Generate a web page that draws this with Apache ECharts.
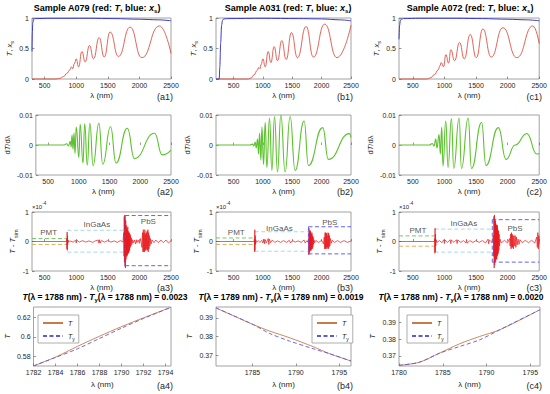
<!DOCTYPE html>
<html><head><meta charset="utf-8">
<script src="https://cdn.jsdelivr.net/npm/echarts@6/dist/echarts.min.js"></script>
<style>html,body{margin:0;padding:0;background:#fff}#c{width:550px;height:394px}</style>
</head><body><div id="c"></div><script>
// ---------------- categories & tick labels ----------------
const samples = ['A079', 'A031', 'A072'];
const panelLetters = ['a', 'b', 'c'];
const diffWl = [1788, 1789, 1788];
const diffVal = ['0.0023', '0.0019', '0.0020'];
const wlTicks = [500, 1000, 1500, 2000, 2500];
const wlRange = [[300, 2500], [200, 2500], [280, 2500]];
const tTicks = [0, 0.5, 1];
const dTicks = [-0.01, 0, 0.01];
const rTicks = [-1, 0, 1];
const zoomXTicks = [[1782, 1784, 1786, 1788, 1790, 1792, 1794], [1785, 1790, 1795], [1780, 1785, 1790, 1795]];
const zoomXRange = [[1782, 1794.5], [1780.8, 1796.35], [1780, 1796.1]];
const zoomYTicks = [[0.58, 0.6, 0.62], [0.37, 0.38, 0.39], [0.37, 0.38, 0.39]];
const zoomYRange = [[0.5705, 0.6305], [0.3641, 0.3959], [0.364, 0.3992]];
const regionNames = ['PMT', 'InGaAs', 'PbS'];

// ---------------- row 1: transmittance T and x_s ----------------
const T_A079 = [[300,0],[680,0],[740,0.01],[800,0.04],[850,0.09],[900,0.15],[925,0.2],[945,0.17],[970,0.25],[1000,0.33],[1037,0.2],[1090,0.45],[1142,0.28],[1210,0.55],[1274,0.33],[1363,0.68],[1442,0.36],[1537,0.77],[1668,0.37],[1853,0.85],[2037,0.35],[2316,0.87],[2500,0.42]];
const T_A031 = [[200,0],[755,0],[800,0.02],[850,0.07],[900,0.14],[930,0.19],[950,0.17],[970,0.24],[999,0.33],[1038,0.2],[1089,0.45],[1135,0.27],[1191,0.53],[1248,0.3],[1321,0.63],[1395,0.32],[1486,0.76],[1588,0.35],[1735,0.86],[1860,0.36],[2052,0.9],[2260,0.35],[2500,0.88]];
const T_A072 = [[280,0],[720,0],[780,0.02],[840,0.07],[900,0.15],[930,0.22],[949,0.27],[985,0.2],[1022,0.4],[1064,0.26],[1101,0.48],[1160,0.3],[1239,0.6],[1313,0.33],[1408,0.73],[1503,0.35],[1608,0.82],[1740,0.36],[1925,0.84],[2146,0.35],[2400,0.87],[2500,0.58]];
const xs_A079 = [[300,0.45],[305,0.75],[312,0.92],[325,0.98],[350,0.99],[600,0.995],[1200,0.995],[1600,0.99],[2000,0.98],[2300,0.97],[2500,0.955]];
const xs_A031 = [[200,0],[255,0],[265,0.2],[280,0.6],[295,0.88],[310,0.96],[330,0.985],[400,0.99],[1000,0.995],[1600,0.99],[2000,0.985],[2300,0.97],[2500,0.955]];
const xs_A072 = [[280,0.65],[290,0.88],[300,0.95],[315,0.98],[350,0.99],[600,0.995],[1200,0.995],[1600,0.99],[2000,0.98],[2300,0.97],[2500,0.955]];

// ---------------- row 2: dT/dλ ----------------
const dT_A079 = [[300,0],[760,0],[800,0.0004],[830,-0.0003],[860,0.0012],[875,-0.0006],[889,0.0033],[905,-0.0014],[921,0.004],[937,-0.0028],[958,0.006],[1000,-0.0042],[1021,0.0069],[1068,-0.006],[1095,0.0071],[1137,-0.0067],[1179,0.0072],[1232,-0.0069],[1326,0.0072],[1389,-0.0064],[1516,0.0061],[1605,-0.006],[1789,0.0056],[1905,-0.0045],[2231,0.0039],[2358,-0.0033],[2500,-0.0017]];
const dT_A031 = [[200,0],[780,0],[820,0.0003],[845,-0.0003],[868,0.001],[885,-0.001],[908,0.002],[925,-0.003],[942,0.004],[965,-0.005],[982,0.006],[1010,-0.0065],[1038,0.0075],[1067,-0.0075],[1112,0.009],[1152,-0.0085],[1197,0.0095],[1248,-0.009],[1305,0.01],[1378,-0.009],[1463,0.0095],[1548,-0.0085],[1701,0.008],[1775,-0.0068],[2018,0.0058],[2115,-0.0048],[2472,0.0038],[2500,0.0025]];
const dT_A072 = [[280,0],[760,0],[808,0.0005],[835,-0.0003],[861,0.002],[882,-0.001],[914,0.0035],[935,-0.003],[956,0.006],[977,-0.007],[1020,0.008],[1057,-0.0075],[1110,0.0088],[1147,-0.0078],[1232,0.009],[1269,-0.0078],[1375,0.009],[1428,-0.0078],[1588,0.0075],[1656,-0.0068],[1853,0.0058],[1975,-0.0048],[2120,0],[2304,0.0038],[2463,-0.003],[2500,-0.0028]];

// ---------------- row 3: residual T - T_sim (units of 1e-4) ----------------
const res_A079 = [[300,0],[845,0],[850,0.08],[853,-0.25],[856,0.32],[859,-0.3],[862,0.2],[866,-0.1],[870,0.05],[880,-0.02],[900,0.02],[950,-0.02],[990,0.04],[1000,-0.05],[1010,0.04],[1050,-0.02],[1100,0.03],[1150,-0.02],[1200,0.02],[1260,-0.03],[1300,0.02],[1350,0.05],[1360,-0.06],[1370,0.06],[1380,-0.05],[1400,0.03],[1450,-0.02],[1500,0.03],[1550,-0.02],[1600,0.02],[1650,-0.03],[1700,0.03],[1740,-0.02],[1752,0.3],[1756,-0.5],[1760,0.85],[1764,-0.7],[1768,0.9],[1772,-0.85],[1776,0.75],[1780,-0.9],[1784,0.7],[1788,-0.6],[1792,0.55],[1796,-0.5],[1800,0.45],[1804,-0.5],[1808,0.4],[1812,-0.45],[1816,0.5],[1820,-0.4],[1824,0.35],[1828,-0.4],[1832,0.3],[1836,-0.35],[1840,0.3],[1845,-0.3],[1850,0.25],[1855,-0.2],[1860,0.2],[1866,-0.15],[1872,0.12],[1880,-0.1],[1890,0.06],[1900,-0.05],[1920,0.05],[1940,-0.08],[1950,0.06],[1960,-0.04],[1980,0.05],[2000,-0.06],[2020,0.1],[2040,-0.2],[2050,0.3],[2056,-0.35],[2062,0.4],[2068,-0.35],[2074,0.3],[2080,-0.35],[2086,0.4],[2092,-0.3],[2098,0.25],[2104,-0.3],[2110,0.3],[2116,-0.25],[2122,0.35],[2128,-0.3],[2134,0.4],[2140,-0.35],[2146,0.3],[2152,-0.25],[2158,0.2],[2166,-0.15],[2175,0.1],[2185,-0.08],[2200,0.05],[2230,-0.04],[2260,0.05],[2300,-0.04],[2340,0.05],[2380,-0.04],[2420,0.05],[2460,-0.05],[2500,0.03]];
const res_A031 = [[200,0],[850,0],[855,0.1],[858,-0.35],[861,0.4],[864,-0.3],[868,0.2],[872,-0.1],[878,0.05],[890,-0.03],[920,0.03],[950,-0.03],[980,0.04],[1000,-0.05],[1020,0.08],[1030,-0.08],[1040,0.06],[1060,-0.04],[1090,0.1],[1100,-0.1],[1110,0.08],[1130,-0.04],[1160,0.05],[1200,-0.03],[1250,0.02],[1300,-0.03],[1350,0.03],[1400,-0.03],[1450,0.04],[1470,-0.05],[1500,0.03],[1550,-0.02],[1600,0.02],[1650,-0.03],[1700,0.05],[1720,-0.05],[1750,0.03],[1770,-0.03],[1778,0.1],[1782,-0.45],[1785,0.45],[1789,-0.4],[1793,0.35],[1797,-0.35],[1801,0.38],[1805,-0.3],[1809,0.35],[1813,-0.3],[1817,0.3],[1821,-0.3],[1825,0.25],[1830,-0.25],[1835,0.3],[1840,-0.25],[1845,0.2],[1850,-0.2],[1856,0.15],[1862,-0.1],[1870,0.06],[1880,-0.04],[1900,0.03],[1950,-0.03],[2000,0.04],[2030,-0.08],[2045,0.15],[2052,-0.25],[2058,0.3],[2064,-0.25],[2070,0.3],[2076,-0.2],[2082,0.28],[2088,-0.25],[2094,0.2],[2100,-0.2],[2108,0.3],[2114,-0.25],[2120,0.28],[2126,-0.2],[2132,0.2],[2140,-0.15],[2150,0.1],[2165,-0.06],[2180,0.04],[2220,-0.03],[2270,0.03],[2320,-0.03],[2380,0.03],[2440,-0.03],[2500,0.02]];
const res_A072 = [[280,0],[840,0],[845,0.1],[848,-0.4],[851,0.45],[854,-0.35],[858,0.25],[862,-0.15],[868,0.06],[880,-0.03],[920,0.03],[960,-0.04],[990,0.06],[1000,-0.07],[1010,0.05],[1050,-0.03],[1090,0.06],[1100,-0.07],[1110,0.05],[1150,-0.03],[1190,0.06],[1200,-0.07],[1210,0.05],[1260,-0.03],[1300,0.03],[1340,-0.05],[1350,0.07],[1360,-0.06],[1400,0.03],[1450,-0.03],[1500,0.03],[1550,-0.03],[1600,0.03],[1650,-0.05],[1690,0.08],[1700,-0.08],[1710,0.05],[1750,-0.03],[1775,0.2],[1779,-0.5],[1783,0.85],[1787,-0.9],[1791,0.9],[1795,-0.8],[1799,0.75],[1803,-0.7],[1807,0.7],[1811,-0.65],[1815,0.6],[1819,-0.6],[1823,0.55],[1827,-0.6],[1831,0.5],[1835,-0.5],[1839,0.55],[1843,-0.45],[1847,0.4],[1851,-0.4],[1856,0.35],[1861,-0.3],[1866,0.25],[1872,-0.15],[1880,0.08],[1900,-0.05],[1950,0.04],[2000,-0.05],[2030,0.1],[2040,-0.15],[2048,0.25],[2054,-0.25],[2060,0.3],[2066,-0.2],[2072,0.25],[2078,-0.2],[2084,0.2],[2092,-0.25],[2100,0.2],[2110,-0.15],[2120,0.2],[2130,-0.2],[2140,0.15],[2150,-0.12],[2165,0.08],[2180,-0.1],[2195,0.06],[2230,-0.04],[2280,0.04],[2330,-0.04],[2380,0.04],[2430,-0.05],[2460,0.15],[2470,-0.2],[2478,0.3],[2486,-0.25],[2494,0.2],[2500,-0.1]];

// detector-region bounds (units of 1e-4)
const pmtHi = [[[300,0.1],[860,0.1]], [[200,0.12],[860,0.12]], [[280,0.19],[845,0.19]]];
const pmtLo = [[[300,-0.1],[860,-0.1]], [[200,-0.1],[860,-0.1]], [[280,-0.16],[845,-0.16]]];
const ingaasHi = [[[860,0.38],[1760,0.38]], [[860,0.33],[1775,0.33]], [[845,0.42],[1757,0.42]]];
const ingaasLo = [[[860,-0.36],[1760,-0.36]], [[860,-0.33],[1775,-0.33]], [[845,-0.36],[1757,-0.36]]];
const pbsTop = [[[1775,0.88],[2500,0.88]], [[1775,0.5],[2500,0.5]], [[1757,0.74],[2500,0.74]]];
const pbsLeft = [[[1775,0.88],[1775,-0.82]], [[1775,0.5],[1775,-0.42]], [[1757,0.74],[1757,-0.7]]];
const pbsBottom = [[[1775,-0.82],[2500,-0.82]], [[1775,-0.42],[2500,-0.42]], [[1757,-0.7],[2500,-0.7]]];
const regionLabelAt = [[[563,0.3],[1326,0.57],[2142,0.68]], [[545,0.3],[1280,0.44],[2138,0.64]], [[580,0.37],[1306,0.6],[2118,0.43]]];

// ---------------- row 4: zoom near 1788 nm ----------------
const Tz_A079 = [[1782,0.5706],[1784,0.5795],[1786,0.5905],[1788,0.6008],[1790,0.6105],[1792,0.6195],[1794.5,0.6302]];
const Tyz_A079 = [[1782,0.5706],[1784,0.5792],[1786,0.588],[1788,0.5985],[1790,0.609],[1792,0.6188],[1794.5,0.6302]];
const Tz_A031 = [[1780.8,0.3954],[1785.1,0.3864],[1787,0.3829],[1789.3,0.3793],[1792,0.3745],[1793.9,0.3707],[1796.35,0.3668]];
const Tyz_A031 = [[1780.8,0.3954],[1785.1,0.3864],[1787,0.3816],[1789.3,0.3775],[1792,0.3734],[1793.9,0.3707],[1796.35,0.3668]];
const Tz_A072 = [[1780,0.3644],[1782.3,0.3662],[1784.6,0.3716],[1786.9,0.3772],[1789.2,0.3816],[1791.5,0.3856],[1796.1,0.3976]];
const Tyz_A072 = [[1780,0.3644],[1782.3,0.3662],[1784.6,0.3716],[1786.9,0.3756],[1789.2,0.3796],[1791.5,0.3856],[1796.1,0.3976]];

const Tdata = [T_A079, T_A031, T_A072];
const xsData = [xs_A079, xs_A031, xs_A072];
const dTdata = [dT_A079, dT_A031, dT_A072];
const resData = [res_A079, res_A031, res_A072];
const TzData = [Tz_A079, Tz_A031, Tz_A072];
const TyzData = [Tyz_A079, Tyz_A031, Tyz_A072];

// ---------------- layout & style ----------------
const FONT = '"Liberation Sans", Arial, Helvetica, sans-serif';
const colX = [32, 216, 399], colW = [139, 135, 141];
const rowY = [18, 115, 212, 307], rowH = [61, 60, 59, 59];
const titleX = [97, 288, 470];
const title4X = [105, 281, 461];
const panelRight = [173, 353, 542];
const panelLabelY = [91, 186, 282, 380];
const yNameGap = [13, 10, 12, 19];
const legendPos = [{left: 38, top: 315}, {left: 312, top: 315}, {left: 407, top: 315}];
const TXT = '#262626';
const subRich = {
  i: {fontStyle: 'italic', lineHeight: 12},
  s: {fontSize: 5.5, lineHeight: 5, verticalAlign: 'bottom'},
  p: {fontSize: 5.5, lineHeight: 5, verticalAlign: 'top'}
};
const fmt = v => String(v);

const opt = {animation: false, backgroundColor: '#fff', grid: [], xAxis: [], yAxis: [], series: [], title: [], legend: []};

function addGrid(r, c) {
  opt.grid.push({left: colX[c], top: rowY[r], width: colW[c], height: rowH[r], show: true, borderColor: '#8c8c8c', borderWidth: 0.8});
  return opt.grid.length - 1;
}
function axTick(ticks) {
  return {show: true, inside: true, length: 2.5, customValues: ticks, lineStyle: {color: '#555', width: 0.6}};
}
function axLabel(ticks) {
  return {customValues: ticks, fontSize: 7, color: TXT, margin: 3, fontFamily: FONT, formatter: fmt};
}
function addX(gi, range, ticks, gap) {
  opt.xAxis.push({type: 'value', gridIndex: gi, min: range[0], max: range[1], name: 'λ (nm)', nameLocation: 'middle', nameGap: gap,
    nameTextStyle: {fontSize: 8, color: TXT, fontFamily: FONT}, axisLine: {show: false}, axisTick: axTick(ticks), axisLabel: axLabel(ticks), splitLine: {show: false}});
}
function addY(gi, range, ticks, name, gap) {
  opt.yAxis.push({type: 'value', gridIndex: gi, min: range[0], max: range[1], name: name, nameLocation: 'middle', nameGap: gap, nameRotate: 90,
    nameTextStyle: {fontSize: 7.5, color: TXT, fontFamily: FONT, lineHeight: 12, rich: subRich}, axisLine: {show: false}, axisTick: axTick(ticks), axisLabel: axLabel(ticks), splitLine: {show: false}});
}
function addLine(gi, data, color, width, smooth, dashed, name, monotone) {
  opt.series.push({type: 'line', name: name, xAxisIndex: gi, yAxisIndex: gi, data: data, symbol: 'none', showSymbol: false,
    smooth: smooth, smoothMonotone: monotone ? 'x' : undefined, connectNulls: true, silent: true, animation: false, progressive: 0,
    clip: false, lineStyle: {color: color, width: width, type: dashed ? [4, 2.5] : 'solid'}, itemStyle: {color: color}});
}
function addTitle(text, x, y, size, align, rich) {
  opt.title.push({text: text, left: x, top: y, textAlign: align, padding: 0,
    textStyle: {fontSize: size, fontWeight: 'bold', color: '#000', fontFamily: FONT, lineHeight: 12, rich: rich}});
}

const boldRich = {
  i: {fontStyle: 'italic', fontWeight: 'bold', lineHeight: 12},
  s: {fontSize: 6, fontWeight: 'bold', lineHeight: 5, verticalAlign: 'bottom'}
};

for (let c = 0; c < 3; c++) {
  // row 1
  let g = addGrid(0, c);
  addX(g, wlRange[c], wlTicks, 12);
  addY(g, [0, 1], tTicks, '{i|T}, {i|x}{s|s}', yNameGap[0]);
  addLine(g, Tdata[c], '#dd3b2f', 0.8, 0.5, false, undefined, true);
  addLine(g, xsData[c], '#3a3ac8', 1, 0.3, false, undefined, true);
  addTitle('Sample ' + samples[c] + ' (red: {i|T}, blue: {i|x}{s|s})', titleX[c], 2, 9, 'center', boldRich);
  // row 2
  g = addGrid(1, c);
  addX(g, wlRange[c], wlTicks, 12);
  addY(g, [-0.01, 0.01], dTicks, 'd{i|T}/dλ', yNameGap[1]);
  addLine(g, dTdata[c], '#5cc22e', 1.1, 0.5, false, undefined, true);
  // row 3
  g = addGrid(2, c);
  addX(g, wlRange[c], wlTicks, 12);
  addY(g, [-1, 1], rTicks, '{i|T} - {i|T}{s|sim}', yNameGap[2]);
  addLine(g, pmtHi[c], '#55bb44', 0.8, false, true);
  addLine(g, pmtLo[c], '#dd9933', 0.8, false, true);
  addLine(g, ingaasHi[c], '#8fd0e0', 0.8, false, true);
  addLine(g, ingaasLo[c], '#8fd0e0', 0.8, false, true);
  addLine(g, resData[c], '#e8171b', 0.7, false, false);
  addLine(g, pbsTop[c], '#5252e6', 0.9, false, true);
  addLine(g, pbsLeft[c], '#5252e6', 0.9, false, true);
  addLine(g, pbsBottom[c], '#5252e6', 0.9, false, true);
  opt.series.push({type: 'scatter', xAxisIndex: g, yAxisIndex: g, symbolSize: 1, silent: true, clip: false, itemStyle: {color: 'rgba(0,0,0,0)'},
    data: regionNames.map((n, k) => ({name: n, value: regionLabelAt[c][k]})),
    label: {show: true, position: 'inside', formatter: '{b}', fontSize: 8, color: TXT, fontFamily: FONT}});
  addTitle('×10{p|-4}', colX[c], 201, 6, 'left', {p: {fontSize: 4.5, lineHeight: 5, verticalAlign: 'top', fontWeight: 'normal'}});
  opt.title[opt.title.length - 1].textStyle.fontWeight = 'normal';
  opt.title[opt.title.length - 1].textStyle.color = TXT;
  addTitle('{i|T}(λ = ' + diffWl[c] + ' nm) - {i|T}{s|y}(λ = ' + diffWl[c] + ' nm) = ' + diffVal[c], title4X[c], 291, 8.5, 'center', boldRich);
  // row 4
  g = addGrid(3, c);
  addX(g, zoomXRange[c], zoomXTicks[c], 14);
  addY(g, zoomYRange[c], zoomYTicks[c], '{i|T}', yNameGap[3]);
  addLine(g, TzData[c], '#cc7a45', 0.9, 0.3, false, 'T');
  addLine(g, TyzData[c], '#5a5ae0', 0.9, 0.3, true, 'Ty');
  opt.legend.push(Object.assign({
    data: ['T', 'Ty'], orient: 'vertical', itemWidth: 20, itemHeight: 6, itemGap: 3, padding: [3, 4, 2, 4],
    borderColor: '#999', borderWidth: 0.8, backgroundColor: '#fff', selectedMode: false, borderRadius: 0,
    itemStyle: {opacity: 0},
    formatter: n => n === 'Ty' ? '{i|T}{s|y}' : '{i|T}',
    textStyle: {fontSize: 7, color: TXT, fontFamily: FONT, lineHeight: 10,
      rich: {i: {fontStyle: 'italic', lineHeight: 10}, s: {fontSize: 5, lineHeight: 4, verticalAlign: 'bottom'}}}
  }, legendPos[c]));
  // panel labels
  for (let r = 0; r < 4; r++) {
    addTitle('(' + panelLetters[c] + (r + 1) + ')', panelRight[c], panelLabelY[r], 9, 'right', {});
    const t = opt.title[opt.title.length - 1];
    t.textStyle.fontWeight = 'normal'; t.textStyle.color = TXT;
  }
}

const chart = echarts.init(document.getElementById('c'), null, {renderer: 'svg'});
chart.setOption(opt);
</script></body></html>
